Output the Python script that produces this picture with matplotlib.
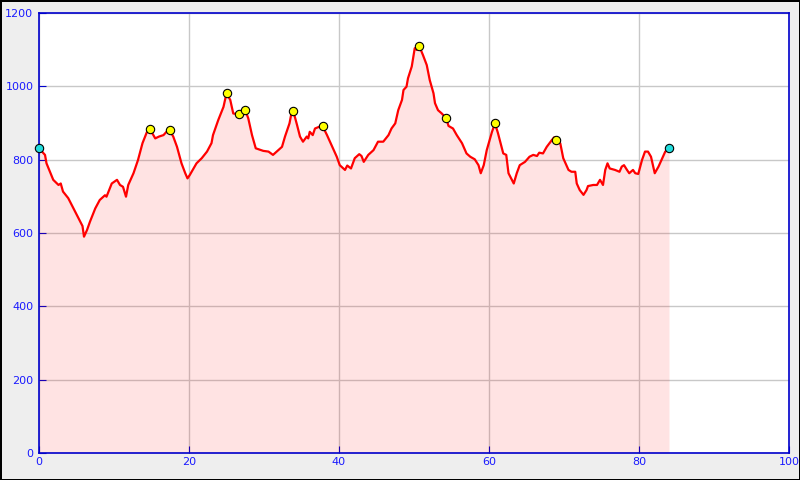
import matplotlib
matplotlib.use('Agg')
import matplotlib.pyplot as plt

# Profil altimétrique (km, m)
dist_km = [0.0, 0.8, 1.0, 1.9, 2.6, 2.9, 3.2, 3.9, 4.6, 5.5, 5.8, 6.0, 6.4, 6.8, 7.5,
           8.1, 8.8, 9.0, 9.7, 10.4, 10.8, 11.2, 11.6, 11.9, 12.6, 13.2, 13.8, 14.4,
           14.8, 15.5, 16.0, 16.6, 17.0, 17.4, 17.9, 18.4, 19.0, 19.5, 19.8, 20.1,
           21.0, 21.7, 22.4, 23.0, 23.2, 23.9, 24.6, 25.0, 25.5, 25.9, 26.6, 27.0,
           27.5, 27.9, 28.4, 28.9, 29.9, 30.6, 31.2, 31.7, 32.4, 32.8, 33.4, 33.7,
           33.9, 34.4, 34.8, 35.2, 35.7, 35.9, 36.1, 36.5, 36.8, 37.4, 37.8, 38.4,
           39.0, 39.7, 40.1, 40.8, 41.1, 41.6, 42.1, 42.7, 43.0, 43.3, 43.9, 44.6,
           45.2, 45.9, 46.6, 47.0, 47.5, 47.9, 48.4, 48.6, 49.0, 49.2, 49.7, 50.1,
           50.4, 50.7, 51.2, 51.7, 52.1, 52.6, 52.8, 53.2, 53.7, 54.3, 54.6, 55.2,
           55.7, 56.4, 57.0, 57.5, 58.1, 58.6, 58.9, 59.3, 59.7, 60.4, 60.8, 61.2,
           61.9, 62.3, 62.6, 63.3, 63.7, 64.1, 64.8, 65.4, 65.9, 66.4, 66.7, 67.2,
           67.7, 68.4, 68.7, 68.9, 69.5, 69.9, 70.6, 71.0, 71.5, 71.7, 72.1, 72.6,
           73.0, 73.2, 73.9, 74.4, 74.8, 75.2, 75.5, 75.8, 76.1, 76.8, 77.4, 77.7,
           78.0, 78.4, 78.7, 79.2, 79.5, 79.9, 80.4, 80.8, 81.2, 81.6, 81.8, 82.1,
           82.6, 83.0, 83.5, 84.0]
elev_m = [831, 813, 790, 745, 731, 735, 713, 695, 667, 631, 619, 590, 608, 631, 667,
          690, 703, 699, 735, 745, 731, 726, 699, 731, 763, 799, 845, 876,
          883, 858, 863, 867, 876, 881, 863, 835, 790, 763, 749, 758,
          790, 804, 822, 845, 867, 908, 944, 981, 963, 926, 924, 934,
          935, 913, 867, 831, 824, 822, 813, 822, 835, 863, 899, 931,
          933, 895, 863, 849, 863, 858, 876, 867, 885, 890, 892, 867,
          840, 808, 785, 772, 784, 776, 804, 815, 810, 794, 813, 826,
          849, 849, 867, 885, 899, 935, 963, 990, 999, 1022, 1054, 1104,
          1099, 1110, 1085, 1058, 1017, 981, 954, 935, 926, 913, 892, 885,
          867, 845, 817, 808, 801, 785, 763, 785, 826, 876, 899, 872,
          817, 813, 763, 735, 763, 785, 794, 808, 813, 810, 819, 817,
          835, 854, 861, 854, 845, 804, 772, 767, 767, 735, 717, 704,
          717, 728, 731, 731, 745, 731, 772, 790, 776, 772, 767, 781,
          785, 772, 763, 772, 763, 761, 799, 822, 822, 808, 790, 763,
          781, 799, 822, 831]

# Points remarquables
sommets_km = [14.8, 17.4, 25.0, 26.6, 27.5, 33.9, 37.8, 50.7, 54.3, 60.8, 68.9]
sommets_m = [883, 881, 981, 924, 935, 933, 892, 1110, 913, 899, 854]
extremites_km = [0.0, 84.0]
extremites_m = [831, 831]

bleu = '#1a1aff'

fig = plt.figure(figsize=(8, 4.8), dpi=100)
fig.patch.set_facecolor('#eeeeee')
fig.patch.set_edgecolor('black')
fig.patch.set_linewidth(2)
ax = fig.add_axes([0.04875, 0.05625, 0.9375, 0.91667])
ax.set_facecolor('white')

ax.set_axisbelow(True)
ax.grid(True, color='#c8c8c8', linewidth=1)

ax.fill_between(dist_km, 0, elev_m, color='#ff0000', alpha=0.11, linewidth=0, zorder=2)
ax.plot(dist_km, elev_m, color='#ff0000', linewidth=1.6, zorder=3)
ax.plot(sommets_km, sommets_m, 'o', markersize=6, markerfacecolor='#ffff00',
        markeredgecolor='black', markeredgewidth=0.8, zorder=4, clip_on=False)
ax.plot(extremites_km, extremites_m, 'o', markersize=6, markerfacecolor='#22dddd',
        markeredgecolor='black', markeredgewidth=0.8, zorder=4, clip_on=False)

ax.set_xlim(0, 100)
ax.set_ylim(0, 1200)
ax.set_xticks([0, 20, 40, 60, 80, 100])
ax.set_yticks([0, 200, 400, 600, 800, 1000, 1200])

for s in ax.spines.values():
    s.set_color('#0000cc')
    s.set_linewidth(1.2)
ax.tick_params(axis='both', direction='in', length=5, color='#0000cc',
               labelcolor=bleu, labelsize=8)
ax.tick_params(axis='x', pad=3)
ax.tick_params(axis='y', pad=4)

fig.savefig('out.png', dpi=100, facecolor=fig.get_facecolor(), edgecolor=fig.get_edgecolor())
